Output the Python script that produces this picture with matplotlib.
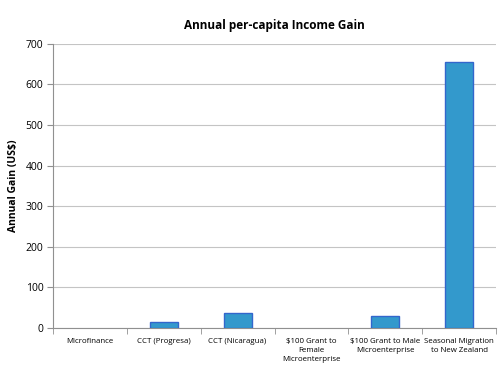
import matplotlib.pyplot as plt
import numpy as np

categories = ["Microfinance", "CCT (Progresa)", "CCT (Nicaragua)",
              "$100 Grant to\nFemale\nMicroenterprise",
              "$100 Grant to Male\nMicroenterprise",
              "Seasonal Migration\nto New Zealand"]
gains = [0, 15, 37, 0, 30, 655]

plt.rcParams['font.family'] = ['Open Sans', 'DejaVu Sans']

fig = plt.figure(figsize=(5, 3.85), dpi=100)
ax = fig.add_axes([0.106, 0.148, 0.886, 0.738])

x = np.arange(len(categories))
# no outline for empty bars
lw = [1.0 if g > 0 else 0 for g in gains]
ax.bar(x, gains, width=0.38, color='#3399cc', edgecolor='#3366cc', linewidth=lw, zorder=3)

ax.set_xlim(-0.5, len(categories) - 0.5)
ax.set_ylim(0, 700)
ax.set_yticks(range(0, 701, 100))
ax.yaxis.grid(True, color='#c4c4c4', linewidth=0.8, zorder=0)

ax.set_xticks(x)
ax.set_xticklabels(categories, fontsize=5.7, linespacing=1.45)
ax.set_xticks(np.arange(-0.5, len(categories), 1), minor=True)
ax.tick_params(axis='x', which='major', length=0, pad=7)
ax.tick_params(axis='x', which='minor', length=4, color='#909090')
ax.tick_params(axis='y', length=4, color='#909090', labelsize=7.5, pad=3)

for s in ['top', 'right']:
    ax.spines[s].set_visible(False)
for s in ['left', 'bottom']:
    ax.spines[s].set_color('#909090')
    ax.spines[s].set_linewidth(0.8)

ax.set_ylabel("Annual Gain (US$)", fontsize=7.5, fontweight='bold', labelpad=5)
ax.set_title("Annual per-capita Income Gain", fontsize=8.5, fontweight='bold', pad=11)

fig.savefig("out.png", dpi=100)
